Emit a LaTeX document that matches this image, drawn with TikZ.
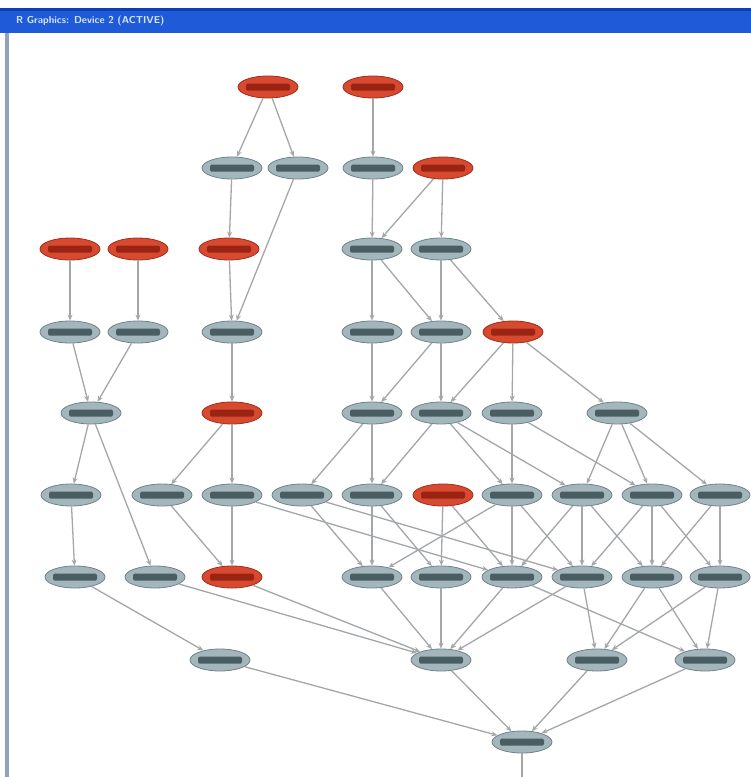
\documentclass[tikz,border=0pt]{standalone}
\usetikzlibrary{arrows.meta,shapes.geometric}
\definecolor{barblue}{HTML}{1F5BD8}
\definecolor{bardark}{HTML}{0B3FB8}
\definecolor{frameline}{HTML}{8FA3BF}
\definecolor{nodegray}{HTML}{A3B6BB}
\definecolor{nodeline}{HTML}{6F838A}
\definecolor{bandgray}{HTML}{4A5D63}
\definecolor{nodered}{HTML}{D84A30}
\definecolor{redline}{HTML}{A02C1C}
\definecolor{bandred}{HTML}{9A2414}
\definecolor{edgecol}{HTML}{A3A7AA}
\definecolor{titletext}{HTML}{D6E4FF}
\tikzset{
  vtx/.style={ellipse, minimum width=60pt, minimum height=22pt, inner sep=0pt,
    line width=0.8pt},
  gv/.style={vtx, fill=nodegray, draw=nodeline,
    path picture={\fill[bandgray, rounded corners=1.5pt] ([xshift=-22pt,yshift=-3.5pt]path picture bounding box.center)
      rectangle ([xshift=22pt,yshift=3.5pt]path picture bounding box.center);}},
  rv/.style={vtx, fill=nodered, draw=redline,
    path picture={\fill[bandred, rounded corners=1.5pt] ([xshift=-22pt,yshift=-3.5pt]path picture bounding box.center)
      rectangle ([xshift=22pt,yshift=3.5pt]path picture bounding box.center);}},
  edge/.style={draw=edgecol, line width=1.3pt, -{Stealth[length=6pt,width=5pt]}},
}
\begin{document}
\begin{tikzpicture}[x=1pt,y=-1pt]
\useasboundingbox (0,0) rectangle (751,777);
\fill[white] (0,0) rectangle (751,777);
% window title bar and frame
\fill[barblue] (0,8) rectangle (751,33);
\fill[bardark] (0,8) rectangle (751,11);
\fill[frameline] (5,33) rectangle (9,777);
\node[anchor=west, text=titletext, font=\sffamily\bfseries, inner sep=0pt] (title) at (16,20.5) {R Graphics: Device 2 (ACTIVE)};

% row 1
\node[rv] (A1) at (268,87) {};
\node[rv] (A2) at (373,87) {};
% row 2
\node[gv] (B1) at (232,168) {};
\node[gv] (B2) at (298,168) {};
\node[gv] (B3) at (373,168) {};
\node[rv] (B4) at (443,168) {};
% row 3
\node[rv] (C1) at (70,249) {};
\node[rv] (C2) at (138,249) {};
\node[rv] (C3) at (229,249) {};
\node[gv] (C4) at (372,249) {};
\node[gv] (C5) at (441,249) {};
% row 4
\node[gv] (D1) at (70,332) {};
\node[gv] (D2) at (138,332) {};
\node[gv] (D3) at (232,332) {};
\node[gv] (D4) at (372,332) {};
\node[gv] (D5) at (441,332) {};
\node[rv] (D6) at (513,332) {};
% row 5
\node[gv] (E1) at (91,413) {};
\node[rv] (E2) at (232,413) {};
\node[gv] (E3) at (372,413) {};
\node[gv] (E4) at (441,413) {};
\node[gv] (E5) at (512,413) {};
\node[gv] (E6) at (617,413) {};
% row 6
\node[gv] (F1) at (71,495) {};
\node[gv] (F2) at (162,495) {};
\node[gv] (F3) at (232,495) {};
\node[gv] (F4) at (302,495) {};
\node[gv] (F5) at (372,495) {};
\node[rv] (F6) at (443,495) {};
\node[gv] (F7) at (512,495) {};
\node[gv] (F8) at (582,495) {};
\node[gv] (F9) at (652,495) {};
\node[gv] (F10) at (720,495) {};
% row 7
\node[gv] (G1) at (75,577) {};
\node[gv] (G2) at (155,577) {};
\node[rv] (G3) at (232,577) {};
\node[gv] (G4) at (372,577) {};
\node[gv] (G5) at (441,577) {};
\node[gv] (G6) at (512,577) {};
\node[gv] (G7) at (582,577) {};
\node[gv] (G8) at (652,577) {};
\node[gv] (G9) at (720,577) {};
% row 8
\node[gv] (H1) at (220,660) {};
\node[gv] (H2) at (441,660) {};
\node[gv] (H3) at (597,660) {};
\node[gv] (H4) at (705,660) {};
% row 9
\node[gv] (I1) at (522,742) {};
\coordinate (out) at (522,777);

% directed edges between the vertices
\foreach \s/\t in {A1/B1,A1/B2,A2/B3,
  B1/C3,B2/D3,B3/C4,B4/C4,B4/C5,
  C1/D1,C2/D2,C3/D3,C4/D4,C4/D5,C5/D5,C5/D6,
  D1/E1,D2/E1,D3/E2,D4/E3,D5/E3,D5/E4,D6/E4,D6/E5,D6/E6,
  E1/F1,E1/G2,E2/F2,E2/F3,E3/F4,E3/F5,E4/F5,E4/F7,E4/F8,
  E5/F7,E5/F9,E6/F8,E6/F9,E6/F10,
  F1/G1,F2/G3,F3/G3,F3/G6,F4/G4,F4/G7,F5/G4,F5/G5,F6/G5,F6/G6,F7/G4,
  F7/G6,F7/G7,F8/G6,F8/G7,F8/G8,F9/G7,F9/G8,F9/G9,F10/G8,F10/G9,
  G1/H1,G2/H2,G3/H2,G4/H2,G5/H2,G6/H2,G7/H2,G6/H4,
  G7/H3,G8/H3,G9/H3,G8/H4,G9/H4,
  H1/I1,H2/I1,H3/I1,H4/I1}
  \draw[edge] (\s) -- (\t);
\draw[draw=edgecol, line width=1.3pt] (I1) -- (out);
\end{tikzpicture}
\end{document}
